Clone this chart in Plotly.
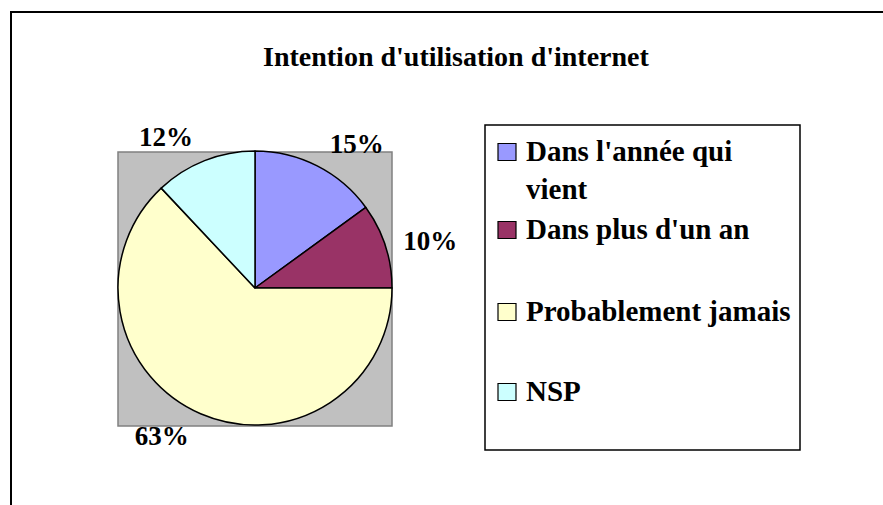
import plotly.graph_objects as go

# ---- data ----
categories = ["Dans l'année qui vient", "Dans plus d'un an", "Probablement jamais", "NSP"]
values = [15, 10, 63, 12]
colors = ["#9999FF", "#993366", "#FFFFCC", "#CCFFFF"]
legend_text = ["Dans l'année qui<br>vient", "Dans plus d'un an", "Probablement jamais", "NSP"]
title_text = "Intention d'utilisation d'internet"

W, H = 883, 505
FONT = "Liberation Serif"


def px(x):
    return x / W


def py(y):
    return 1 - y / H


# pie geometry (pixels)
cx, cy, r = 255, 288, 137
r_lab = r + 11  # radius of the invisible pie that carries the outside labels

fig = go.Figure()
fig.add_trace(go.Pie(
    labels=categories,
    values=values,
    sort=False,
    direction="clockwise",
    rotation=0,
    marker=dict(colors=colors, line=dict(color="black", width=1.5)),
    textinfo="none",
    domain=dict(x=[px(cx - r), px(cx + r)], y=[py(cy + r), py(cy - r)]),
    showlegend=False,
    hoverinfo="label+percent",
))
fig.add_trace(go.Pie(
    labels=categories,
    values=values,
    sort=False,
    direction="clockwise",
    rotation=0,
    marker=dict(colors=["rgba(0,0,0,0)"] * len(values), line=dict(width=0)),
    textinfo="percent",
    textposition="outside",
    textfont=dict(family=FONT, size=27, color="black", weight="bold"),
    domain=dict(x=[px(cx - r_lab), px(cx + r_lab)], y=[py(cy + r_lab), py(cy - r_lab)]),
    showlegend=False,
    hoverinfo="skip",
))

shapes = []
# outer chart frame
shapes.append(dict(type="rect", xref="paper", yref="paper",
                   x0=px(11), x1=px(W + 20), y0=py(H + 20), y1=py(12),
                   line=dict(color="black", width=2), fillcolor="rgba(0,0,0,0)", layer="below"))
# gray plot area
shapes.append(dict(type="rect", xref="paper", yref="paper",
                   x0=px(118), x1=px(392), y0=py(426), y1=py(152),
                   line=dict(color="#808080", width=1.5), fillcolor="#C0C0C0", layer="below"))
# legend box
shapes.append(dict(type="rect", xref="paper", yref="paper",
                   x0=px(485), x1=px(800), y0=py(450), y1=py(125),
                   line=dict(color="black", width=1.5), fillcolor="white", layer="below"))

annotations = [dict(text=title_text, xref="paper", yref="paper", x=px(456), y=py(57),
                    xanchor="center", yanchor="middle", showarrow=False,
                    font=dict(family=FONT, size=28, color="black", weight="bold"))]

row_y = [152, 230, 312, 392]
for i, (lab, col) in enumerate(zip(legend_text, colors)):
    yc = row_y[i]
    shapes.append(dict(type="rect", xref="paper", yref="paper",
                       x0=px(498), x1=px(516), y0=py(yc + 8.5), y1=py(yc - 8.5),
                       line=dict(color="black", width=1.2), fillcolor=col))
    annotations.append(dict(text=lab, xref="paper", yref="paper", x=px(524), y=py(yc - 19),
                            xanchor="left", yanchor="top", align="left", showarrow=False,
                            font=dict(family=FONT, size=29, color="black", weight="bold")))

fig.update_layout(
    width=W, height=H,
    margin=dict(l=0, r=0, t=0, b=0),
    paper_bgcolor="white",
    plot_bgcolor="white",
    shapes=shapes,
    annotations=annotations,
)

fig.write_html("out.html", config={"displayModeBar": False},
               post_script="document.body.style.margin='0';")
